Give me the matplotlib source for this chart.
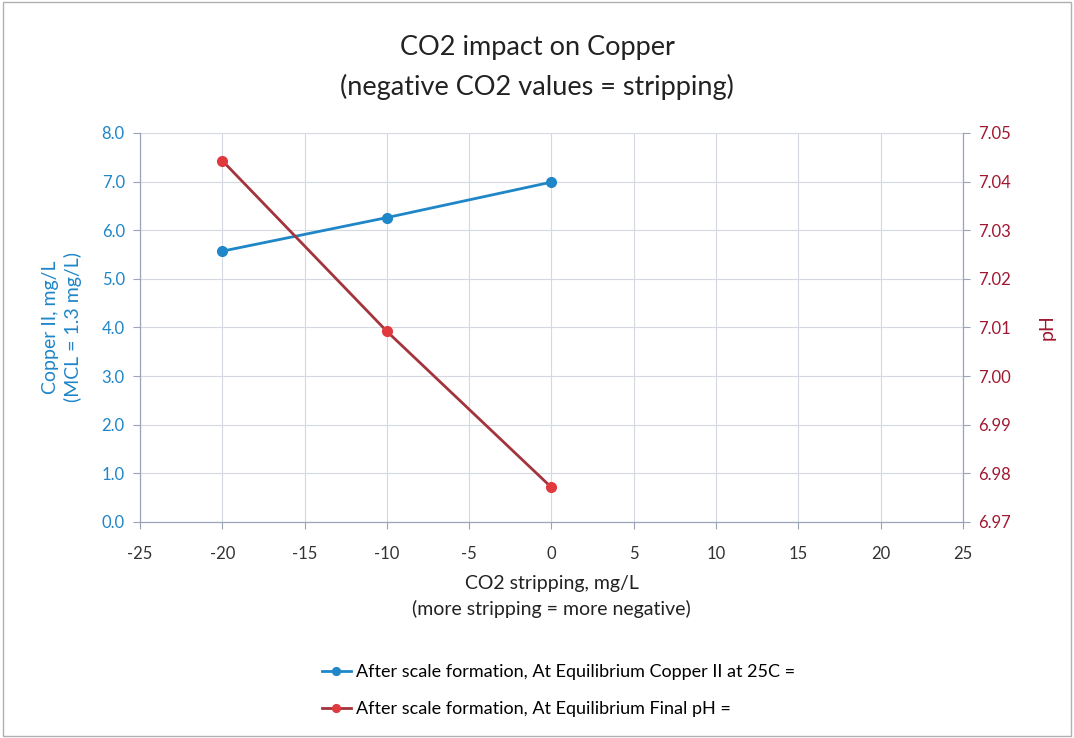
import matplotlib
matplotlib.use("Agg")
import matplotlib.pyplot as plt
import matplotlib.patches as mpatches

# data
co2 = [-20, -10, 0]
copper = [5.57, 6.26, 6.99]
ph = [7.0443, 7.0092, 6.9771]

x_ticks = [-25, -20, -15, -10, -5, 0, 5, 10, 15, 20, 25]
cu_ticks = [0, 1, 2, 3, 4, 5, 6, 7, 8]
ph_ticks = [6.97, 6.98, 6.99, 7.00, 7.01, 7.02, 7.03, 7.04, 7.05]

blue = "#1f86c8"
red_line = "#a3343c"
red_mk = "#e0393e"
red_txt = "#a01830"
axis_col = "#9aa3b8"

plt.rcParams["font.family"] = ["Lato", "DejaVu Sans"]
plt.rcParams["axes.unicode_minus"] = False

fig = plt.figure(figsize=(10.74, 7.38), dpi=100)
ax = fig.add_axes([0.1304, 0.2927, 0.7662, 0.5271])
ax2 = ax.twinx()

ax.plot(co2, copper, color=blue, lw=2, marker="o", ms=7, zorder=3,
        label="After scale formation, At Equilibrium Copper II at 25C =")
ax2.plot(co2, ph, color=red_line, lw=2, marker="o", ms=7, mfc=red_mk, mec=red_mk, zorder=3,
         label="After scale formation, At Equilibrium Final pH =")

ax.set_xlim(-25, 25)
ax.set_xticks(x_ticks)
ax.set_ylim(0, 8)
ax.set_yticks(cu_ticks)
ax.set_yticklabels([f"{v:.1f}" for v in cu_ticks], color=blue, fontsize=12)
ax2.set_ylim(6.97, 7.05)
ax2.set_yticks(ph_ticks)
ax2.set_yticklabels([f"{v:.2f}" for v in ph_ticks], color=red_txt, fontsize=12)
ax.tick_params(axis="x", labelsize=12, colors="#333333", length=5, color=axis_col, pad=12)
ax.tick_params(axis="y", length=5, color=axis_col, pad=6)
ax2.tick_params(axis="y", length=5, color=axis_col, pad=6)

ax.grid(True, color="#d4d8e0", lw=0.8)
ax.set_axisbelow(True)
for a in (ax, ax2):
    a.spines["top"].set_visible(False)
    a.spines["left"].set_color(axis_col)
    a.spines["right"].set_color(axis_col)
    a.spines["bottom"].set_color(axis_col)

ax.set_ylabel("Copper II, mg/L\n(MCL = 1.3 mg/L)", color=blue, fontsize=14, labelpad=14,
              linespacing=1.35)
ax2.set_ylabel("pH", color=red_txt, fontsize=14, labelpad=20)
ax.set_xlabel("CO2 stripping, mg/L\n(more stripping = more negative)", fontsize=14,
              color="#222222", labelpad=10, linespacing=1.5)

fig.suptitle("CO2 impact on Copper\n(negative CO2 values = stripping)", fontsize=19.5,
             color="#222222", y=0.952, linespacing=1.65)

h1, l1 = ax.get_legend_handles_labels()
h2, l2 = ax2.get_legend_handles_labels()
fig.legend(h1 + h2, l1 + l2, loc="center", bbox_to_anchor=(0.52, 0.064), frameon=False,
           fontsize=13, handlelength=1.6, handletextpad=0.3, labelspacing=1.15,
           markerscale=0.8)

fig.patches.append(mpatches.Rectangle((0.003, 0.003), 0.994, 0.994, transform=fig.transFigure,
                                      fill=False, edgecolor="#b0b0b0", lw=1))

fig.savefig("out.png", dpi=100)
